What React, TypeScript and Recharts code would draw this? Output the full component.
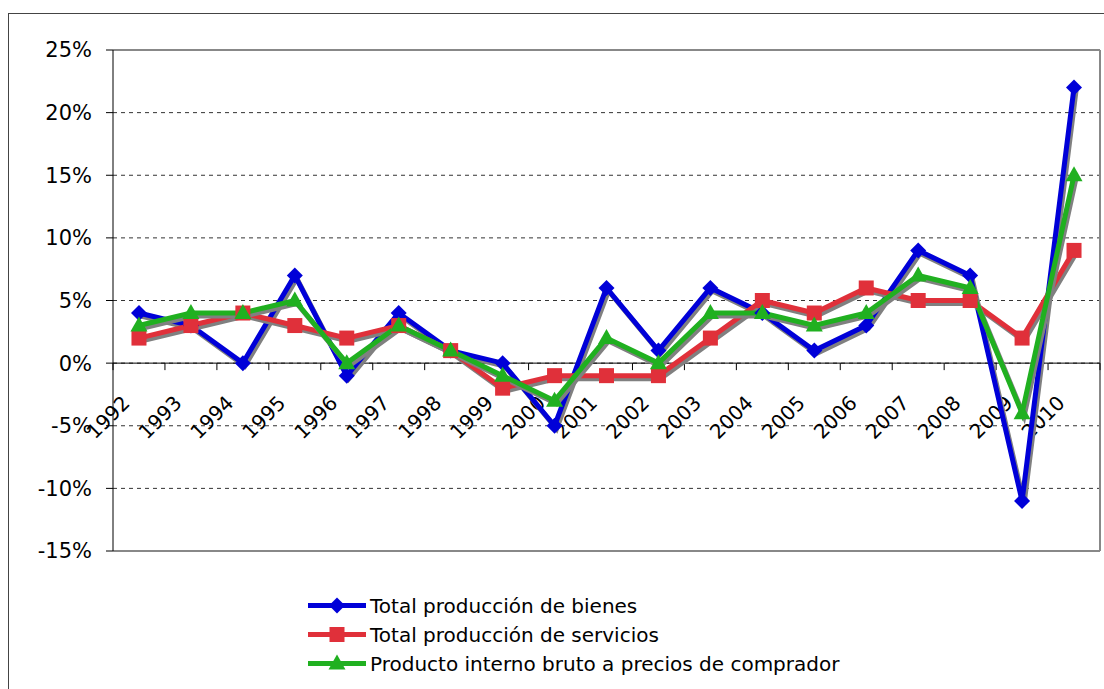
import React from 'react';
import { LineChart, Line, XAxis, YAxis, CartesianGrid, ReferenceLine } from 'recharts';

const years = ['1992', '1993', '1994', '1995', '1996', '1997', '1998', '1999', '2000', '2001', '2002', '2003', '2004', '2005', '2006', '2007', '2008', '2009', '2010'];
const bienes = [4, 3, 0, 7, -1, 4, 1, 0, -5, 6, 1, 6, 4, 1, 3, 9, 7, -11, 22];
const servicios = [2, 3, 4, 3, 2, 3, 1, -2, -1, -1, -1, 2, 5, 4, 6, 5, 5, 2, 9];
const pib = [3, 4, 4, 5, 0, 3, 1, -1, -3, 2, 0, 4, 4, 3, 4, 7, 6, -4, 15];
const yTicks = [-15, -10, -5, 0, 5, 10, 15, 20, 25];

const data = years.map((year, i) => ({ year, bienes: bienes[i], servicios: servicios[i], pib: pib[i] }));

const FONT = '"DejaVu Sans", Verdana, sans-serif';
const BLUE = '#0000D8';
const RED = '#E0303A';
const GREEN = '#20B020';

const diamond = (cx: number, cy: number, color: string, key?: any) => (
  <path key={key} d={`M${cx},${cy - 8} L${cx + 8},${cy} L${cx},${cy + 8} L${cx - 8},${cy} Z`} fill={color} />
);
const square = (cx: number, cy: number, color: string, key?: any) => (
  <rect key={key} x={cx - 7.5} y={cy - 7.5} width={15} height={15} fill={color} />
);
const triangle = (cx: number, cy: number, color: string, key?: any) => (
  <path key={key} d={`M${cx},${cy - 9} L${cx + 8.5},${cy + 6} L${cx - 8.5},${cy + 6} Z`} fill={color} />
);

// category axis drawn along the 0% line, like Excel does
const CategoryAxis = (props: any) => {
  const vb = props.viewBox || {};
  const x = vb.x ?? 0;
  const y = vb.y ?? 0;
  const width = vb.width ?? 0;
  const step = width / years.length;
  return (
    <g>
      {years.concat(['']).map((_, i) => (
        <line key={'t' + i} x1={x + i * step} x2={x + i * step} y1={y} y2={y + 7} stroke="#000" />
      ))}
      {years.map((yr, i) => {
        const ax = x + (i + 0.5) * step - 8;
        const ay = y + 41;
        return (
          <text key={yr} x={ax} y={ay} transform={`rotate(-45 ${ax} ${ay})`} textAnchor="end" fontSize={20} fontFamily={FONT} fill="#000">
            {yr}
          </text>
        );
      })}
    </g>
  );
};

const legendItems = [
  { name: 'Total producción de bienes', color: BLUE, marker: diamond },
  { name: 'Total producción de servicios', color: RED, marker: square },
  { name: 'Producto interno bruto a precios de comprador', color: GREEN, marker: triangle },
];

export default function App() {
  return (
    <div style={{ position: 'fixed', left: 8, top: 13, width: 1096, height: 676, borderLeft: '1px solid #444', borderTop: '1px solid #444', boxSizing: 'border-box', fontFamily: FONT, background: '#fff' }}>
      <style>{'.recharts-line{filter:drop-shadow(2px 3px 0px #808080)}'}</style>
      <LineChart width={1095} height={675} data={data} margin={{ top: 36, right: 4, left: 44, bottom: 138 }}>
        <CartesianGrid horizontal vertical={false} stroke="#333" strokeDasharray="4 4" />
        {/* plot area frame, top and bottom */}
        <CartesianGrid
          stroke="#888"
          strokeWidth={2}
          vertical={false}
          horizontalCoordinatesGenerator={({ offset }: any) => [offset.top, offset.top + offset.height]}
        />
        <XAxis dataKey="year" hide scale="band" />
        <YAxis
          domain={[-15, 25]}
          ticks={yTicks}
          interval={0}
          width={60}
          tickFormatter={(v: number) => `${v}%`}
          tick={{ fontSize: 21, fill: '#000', fontFamily: FONT }}
          tickSize={7}
          tickMargin={14}
          axisLine={{ stroke: '#000' }}
          tickLine={{ stroke: '#000' }}
        />
        {/* right side of the frame: end of the last band */}
        <ReferenceLine x={years[years.length - 1]} position="end" stroke="#888" strokeWidth={2} ifOverflow="visible" />
        <ReferenceLine y={0} stroke="#000" label={(p: any) => <CategoryAxis {...p} />} />
        <Line
          dataKey="bienes"
          stroke={BLUE}
          strokeWidth={5}
          isAnimationActive={false}
          dot={(p: any) => diamond(p.cx, p.cy, BLUE, p.key ?? p.index)}
          activeDot={false}
        />
        <Line
          dataKey="servicios"
          stroke={RED}
          strokeWidth={5}
          isAnimationActive={false}
          dot={(p: any) => square(p.cx, p.cy, RED, p.key ?? p.index)}
          activeDot={false}
        />
        <Line
          dataKey="pib"
          stroke={GREEN}
          strokeWidth={5}
          isAnimationActive={false}
          dot={(p: any) => triangle(p.cx, p.cy, GREEN, p.key ?? p.index)}
          activeDot={false}
        />
      </LineChart>
      <div style={{ position: 'absolute', left: 299, top: 577 }}>
        {legendItems.map((item) => (
          <div key={item.name} style={{ display: 'flex', alignItems: 'center', height: 29 }}>
            <svg width={58} height={29} style={{ display: 'block' }}>
              <line x1={0} x2={58} y1={14.5} y2={14.5} stroke={item.color} strokeWidth={5} />
              {item.marker(29, 14.5, item.color)}
            </svg>
            <span style={{ marginLeft: 4, fontSize: 20, color: '#000', whiteSpace: 'nowrap' }}>{item.name}</span>
          </div>
        ))}
      </div>
    </div>
  );
}
